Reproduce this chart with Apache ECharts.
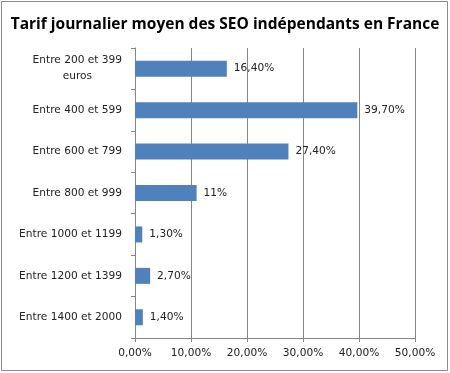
<!DOCTYPE html>
<html><head><meta charset="utf-8">
<script src="https://cdn.jsdelivr.net/npm/echarts@6/dist/echarts.min.js"></script>
<style>html,body{margin:0;padding:0;background:#fff}#c{width:450px;height:373px}</style>
</head><body><div id="c"></div>
<script>
var title = "Tarif journalier moyen des SEO indépendants en France";
var categories = ["Entre 200 et 399 euros","Entre 400 et 599","Entre 600 et 799","Entre 800 et 999","Entre 1000 et 1199","Entre 1200 et 1399","Entre 1400 et 2000"];
var values = [16.4, 39.7, 27.4, 11, 1.3, 2.7, 1.4];
var valueLabels = ["16,40%","39,70%","27,40%","11%","1,30%","2,70%","1,40%"];
var tickLabels = ["0,00%","10,00%","20,00%","30,00%","40,00%","50,00%"];

var chart = echarts.init(document.getElementById('c'), null, {renderer:'canvas'});
var font = 'DejaVu Sans';
var fs = 10.6;
chart.setOption({
  animation:false,
  backgroundColor:'#fff',
  title:{text:title,left:'center',top:12,textStyle:{fontFamily:'Open Sans',fontWeight:'bold',fontSize:15.5,color:'#000'}},
  graphic:[{type:'rect',shape:{x:1.5,y:1.5,width:446,height:369},style:{fill:'none',stroke:'#8c8c8c',lineWidth:1},silent:true}],
  grid:{left:135,right:35,top:48,bottom:35,containLabel:false},
  xAxis:{type:'value',min:0,max:50,interval:10,
    axisLine:{show:true,lineStyle:{color:'#868686'}},
    axisTick:{show:true,length:4,lineStyle:{color:'#868686'}},
    splitLine:{show:true,lineStyle:{color:'#868686',width:1}},
    axisLabel:{margin:10,fontFamily:font,fontSize:fs,color:'#222',formatter:function(v){return tickLabels[Math.round(v/10)];}}
  },
  yAxis:{type:'category',data:categories,inverse:true,
    axisLine:{show:true,lineStyle:{color:'#868686'}},
    axisTick:{show:true,length:4,lineStyle:{color:'#868686'}},
    axisLabel:{margin:13,fontFamily:font,fontSize:fs,color:'#222',lineHeight:16,
      formatter:function(v){
        var m = v.match(/^(.*) (euros)$/);
        if(m){return '{a|'+m[1]+'}\n{b|'+m[2]+'}';}
        return v;
      },
      rich:{a:{fontFamily:font,fontSize:fs,color:'#222',lineHeight:16},b:{fontFamily:font,fontSize:fs,color:'#222',lineHeight:16,padding:[0,30,0,0]}}
    }
  },
  series:[{type:'bar',data:values,barWidth:16,itemStyle:{color:'#4f81bd'},
    label:{show:true,position:'right',distance:7,fontFamily:font,fontSize:fs,color:'#222',
      formatter:function(p){return valueLabels[p.dataIndex];}}}]
});
</script></body></html>
